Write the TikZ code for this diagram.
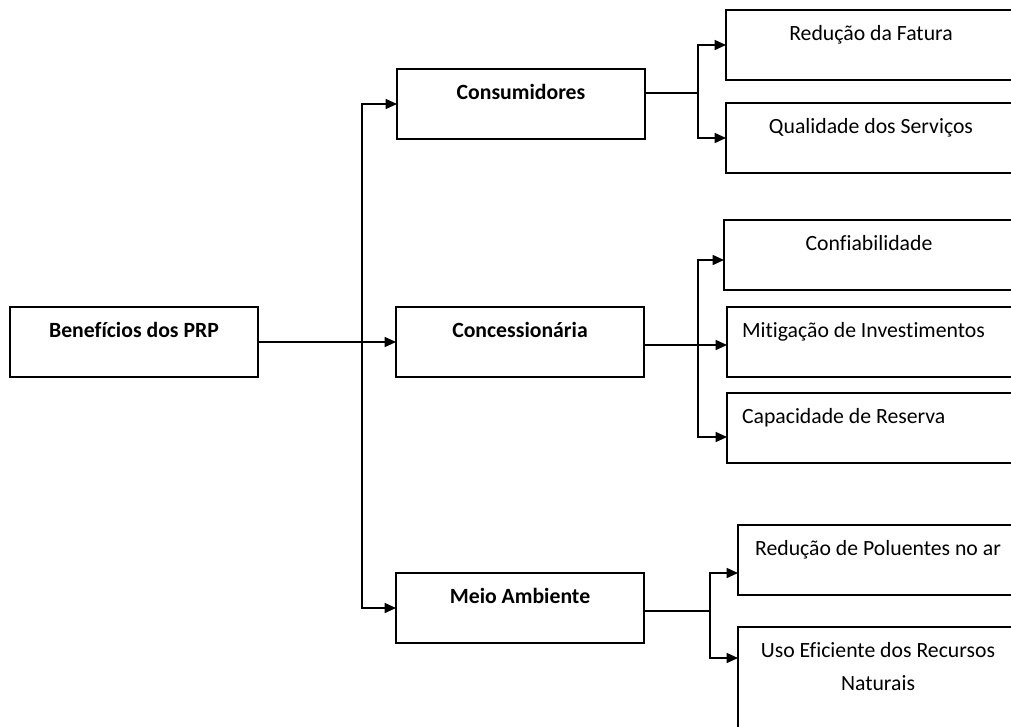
\documentclass[tikz,border=0pt]{standalone}
\usepackage{fontspec}
\setmainfont{Carlito}[Ligatures=NoCommon]
\usetikzlibrary{positioning}
\usetikzlibrary{calc}
\usetikzlibrary{arrows.meta}

\tikzset{
  box/.style={draw, line width=1.1pt, inner sep=0pt, outer sep=0pt, anchor=north west,
    font=\fontsize{16.3pt}{25pt}\selectfont, text height=22.5pt, text depth=30pt,
    minimum height=52.5pt},
  mainbox/.style={box, minimum width=186pt, font=\fontsize{16.3pt}{25pt}\selectfont\bfseries},
  leafbox/.style={box, minimum width=217.5pt},
  indented/.style={text width=195pt, align=flush left},
  arr/.style={line width=1.1pt, -{Triangle[length=8.5pt,width=7.5pt]}},
  link/.style={line width=1.1pt}
}

\begin{document}
\begin{tikzpicture}[x=0.75pt,y=-0.75pt]
\useasboundingbox (0,0) rectangle (1011,726);
\clip (0,0) rectangle (1011,726);

\node [mainbox] (root) at (10,307) {Benefícios dos PRP};
\node [mainbox] (cons) at (397,69) {Consumidores};
\node [mainbox] (conc) at (396,307) {Concessionária};
\node [mainbox] (meio) at (396,573) {Meio Ambiente};

\node [leafbox] (fatura) at (726,10) {Redução da Fatura};
\node [leafbox] (qual) at (726,103) {Qualidade dos Serviços};
\node [leafbox] (conf) at (724,220) {Confiabilidade};
\node [leafbox, indented] (mitig) at (727,307) {Mitigação de Investimentos};
\node [leafbox, indented] (reserva) at (727,393) {Capacidade de Reserva};
\node [leafbox, minimum width=210pt] (polu) at (738,525) {Redução de Poluentes no ar};
\node [leafbox, minimum width=210pt, minimum height=82.5pt, text depth=60pt,
  text width=210pt, align=flush center] (uso) at (738,627) {Uso Eficiente dos Recursos\\Naturais};

\coordinate (trunk) at (362,344);
\coordinate (fork1) at (698,93);
\coordinate (fork2) at (698,345);
\coordinate (fork3) at (710,611);

\draw [arr] (root.east) -- (conc.west);
\draw [arr] (trunk) |- (cons.west);
\draw [arr] (trunk) |- (meio.west);

\draw [link] (cons.east |- fork1) -- (fork1);
\draw [arr] (fork1) |- (fatura.west);
\draw [arr] (fork1) |- (qual.west);

\draw [link] (conc.east |- fork2) -- (fork2);
\draw [arr] (fork2) |- ([yshift=-3.75pt]conf.west);
\draw [arr] (fork2) -- (fork2 -| mitig.west);
\draw [arr] (fork2) |- ([yshift=-6.75pt]reserva.west);

\draw [link] (meio.east |- fork3) -- (fork3);
\draw [arr] (fork3) |- ([yshift=-9.75pt]polu.west);
\draw [arr] (fork3) |- ([yshift=-23.25pt]uso.north west);
\end{tikzpicture}
\end{document}
